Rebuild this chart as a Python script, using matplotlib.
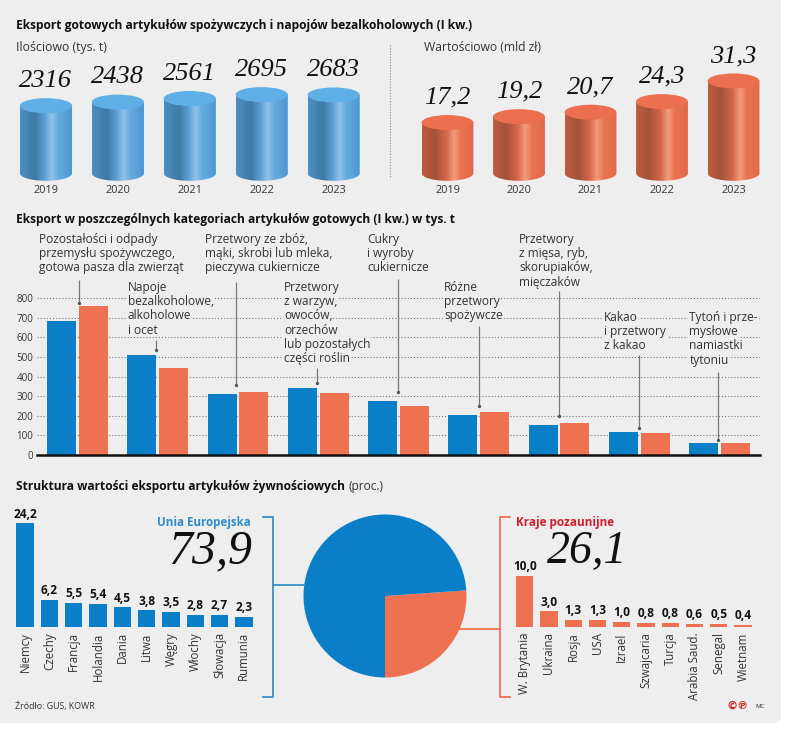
"""Eksport gotowych artykulow spozywczych - infographic."""
import numpy as np
import matplotlib

matplotlib.use('Agg')
import matplotlib.pyplot as plt
from matplotlib.colors import LinearSegmentedColormap
from matplotlib.patches import Ellipse, FancyBboxPatch, PathPatch
from matplotlib.path import Path

plt.rcParams['font.family'] = ['Open Sans', 'DejaVu Sans']

W, H = 788, 734
BG = '#eeeeee'
BLUE = '#0a7fc8'
ORANGE = '#ee7152'
TEXT = '#333333'
NUM_FONT = 'Liberation Serif'

# top cylinders
years = ['2019', '2020', '2021', '2022', '2023']
qty_values = [2316, 2438, 2561, 2695, 2683]
qty_labels = ['2316', '2438', '2561', '2695', '2683']
val_values = [17.2, 19.2, 20.7, 24.3, 31.3]
val_labels = ['17,2', '19,2', '20,7', '24,3', '31,3']

# categories, thousand tonnes
cat_labels = [
    'Pozostałości i odpady\nprzemysłu spożywczego,\ngotowa pasza dla zwierząt',
    'Napoje\nbezalkoholowe,\nalkoholowe\ni ocet',
    'Przetwory ze zbóż,\nmąki, skrobi lub mleka,\npieczywa cukiernicze',
    'Przetwory\nz warzyw,\nowoców,\norzechów\nlub pozostałych\nczęści roślin',
    'Cukry\ni wyroby\ncukiernicze',
    'Różne\nprzetwory\nspożywcze',
    'Przetwory\nz mięsa, ryb,\nskorupiaków,\nmięczaków',
    'Kakao\ni przetwory\nz kakao',
    'Tytoń i prze-\nmysłowe\nnamiastki\ntytoniu',
]
cat_blue = [685, 510, 310, 342, 277, 202, 155, 116, 60]
cat_orange = [758, 444, 323, 316, 250, 218, 163, 110, 63]
cat_ticks = [0, 100, 200, 300, 400, 500, 600, 700, 800]

# structure of value
eu_names = ['Niemcy', 'Czechy', 'Francja', 'Holandia', 'Dania', 'Litwa', 'Węgry', 'Włochy', 'Słowacja', 'Rumunia']
eu_values = [24.2, 6.2, 5.5, 5.4, 4.5, 3.8, 3.5, 2.8, 2.7, 2.3]
eu_labels = ['24,2', '6,2', '5,5', '5,4', '4,5', '3,8', '3,5', '2,8', '2,7', '2,3']
non_names = ['W. Brytania', 'Ukraina', 'Rosja', 'USA', 'Izrael', 'Szwajcaria', 'Turcja', 'Arabia Saud.', 'Senegal', 'Wietnam']
non_values = [10.0, 3.0, 1.3, 1.3, 1.0, 0.8, 0.8, 0.6, 0.5, 0.4]
non_labels = ['10,0', '3,0', '1,3', '1,3', '1,0', '0,8', '0,8', '0,6', '0,5', '0,4']
pie_values = [26.1, 73.9]

fig = plt.figure(figsize=(W / 100, H / 100), dpi=100, facecolor='white')


def px_axes(left, top, right, bottom, zorder=1):
    ax = fig.add_axes([left / W, 1 - bottom / H, (right - left) / W, (bottom - top) / H], zorder=zorder)
    ax.patch.set_visible(False)
    for s in ax.spines.values():
        s.set_visible(False)
    return ax


def cylinders(ax, values, labels, scale, cmap, top_color):
    """scale is pixels per unit, baseline sits 9.7 px above the axes bottom."""
    ry = 7.5 / scale
    half = 26 / 71.7
    angles = np.linspace(np.pi, 2 * np.pi, 40)
    grad = np.linspace(0, 1, 128).reshape(1, -1)
    for i, v in enumerate(values):
        xs = [i - half, i - half] + list(i + half * np.cos(angles)) + [i + half]
        ys = [v, 0] + list(ry * np.sin(angles)) + [v]
        im = ax.imshow(grad, extent=(i - half, i + half, -ry, v), cmap=cmap, aspect='auto', zorder=2)
        clip = PathPatch(Path(np.column_stack([xs, ys])), transform=ax.transData)
        im.set_clip_path(clip)
        ax.add_patch(Ellipse((i, v), 2 * half, 2 * ry, facecolor=top_color, edgecolor='none', zorder=3, clip_on=False))
        ax.annotate(labels[i], (i, v), xytext=(0, 25 / 1.389), textcoords='offset points', ha='center', va='center',
                    family=NUM_FONT, style='italic', fontsize=19, color='#111111', annotation_clip=False)
    ax.set_xlim(-0.5, 4.5)
    ax.set_ylim(-9.7 / scale, (173.3 - 20) / scale)
    ax.set_yticks([])
    ax.set_xticks(range(len(years)))
    ax.set_xticklabels(years, fontsize=7.8, color=TEXT)
    ax.tick_params(axis='x', length=0, pad=1.5)


def small_bars(ax, names, values, labels, color, scale):
    ax.bar(range(len(values)), values, width=0.716, color=color)
    for i, v in enumerate(values):
        ax.annotate(labels[i], (i, v), xytext=(0, 2), textcoords='offset points', ha='center', va='bottom',
                    fontsize=8.6, fontweight='bold', color='#111111', annotation_clip=False)
    ax.set_xlim(-0.5, 9.5)
    ax.set_ylim(0, 106 / scale)
    ax.set_yticks([])
    ax.set_xticks(range(len(names)))
    ax.set_xticklabels(names, rotation=90, fontsize=8.3, color=TEXT)
    ax.tick_params(axis='x', length=0, pad=4)


# background panel
bg = fig.add_axes([0, 0, 1, 1], zorder=0)
bg.set_xlim(0, W)
bg.set_ylim(H, 0)
bg.axis('off')
bg.add_patch(FancyBboxPatch((-20, -20), 801, 743, boxstyle='round,pad=0,rounding_size=7', facecolor=BG, edgecolor='none'))

# cylinders
cmap_blue = LinearSegmentedColormap.from_list('b', [(0, '#4b90c6'), (0.28, '#3f79a6'), (0.45, '#5b9dd2'), (0.6, '#90c2ea'), (0.72, '#68acdd'), (1, '#4a95d2')])
cmap_orange = LinearSegmentedColormap.from_list('o', [(0, '#c05a3e'), (0.25, '#a3533a'), (0.48, '#d9684a'), (0.62, '#f29c7e'), (0.75, '#ea7352'), (1, '#df694a')])
ax_qty = px_axes(10, 20, 369.6, 183)
cylinders(ax_qty, qty_values, qty_labels, 0.0292, cmap_blue, '#5dafe5')
ax_val = px_axes(411.75, 20, 769.25, 183)
cylinders(ax_val, val_values, val_labels, 2.95, cmap_orange, '#ec6f4f')

# grouped categories
ax_cat = px_axes(37, 285, 760, 455)
x = np.arange(len(cat_blue))
ax_cat.bar(x - 0.199, cat_blue, width=0.361, color=BLUE, zorder=3)
ax_cat.bar(x + 0.199, cat_orange, width=0.361, color=ORANGE, zorder=3)
ax_cat.set_xlim(-0.505, 8.505)
ax_cat.set_ylim(0, 170 / 0.196)
ax_cat.set_yticks(cat_ticks)
ax_cat.set_yticklabels([str(t) for t in cat_ticks], fontsize=7, color=TEXT)
ax_cat.set_xticks([])
ax_cat.tick_params(axis='y', length=0, pad=2.5)
ax_cat.grid(axis='y', linestyle=(0, (1, 1.8)), color='#777777', linewidth=0.8, zorder=1)
ax_cat.set_axisbelow(True)
ax_cat.spines['bottom'].set_visible(True)
ax_cat.spines['bottom'].set_linewidth(1.8)
ax_cat.spines['bottom'].set_color('#111111')
ax_cat.spines['bottom'].set_zorder(5)

# small bars and the pie
ax_eu = px_axes(13, 520.7, 256, 626.7)
small_bars(ax_eu, eu_names, eu_values, eu_labels, BLUE, 4.27)
ax_non = px_axes(512.6, 520.7, 755.1, 626.7)
small_bars(ax_non, non_names, non_values, non_labels, ORANGE, 5.07)

ax_pie = px_axes(303.5, 514.5, 466.5, 677.5)
ax_pie.pie(pie_values, colors=[ORANGE, BLUE], startangle=-90, counterclock=True, radius=1)
ax_pie.set_xlim(-1, 1)
ax_pie.set_ylim(-1, 1)

# overlay in pixel coordinates for text, leaders and brackets
ov = fig.add_axes([0, 0, 1, 1], zorder=5)
ov.set_xlim(0, W)
ov.set_ylim(H, 0)
ov.axis('off')
ov.patch.set_visible(False)

ov.text(16, 25, 'Eksport gotowych artykułów spożywczych i napojów bezalkoholowych (I kw.)', fontsize=8.62, fontweight='bold', color='#111111', va='center')
ov.text(16, 47.5, 'Ilościowo (tys. t)', fontsize=8.8, color=TEXT, va='center')
ov.text(424.3, 47.5, 'Wartościowo (mld zł)', fontsize=8.75, color=TEXT, va='center')
ov.plot([390, 390], [45, 177], color='#888888', linewidth=0.8, linestyle=(0, (1, 1.5)))
ov.text(16, 219.3, 'Eksport w poszczególnych kategoriach artykułów gotowych (I kw.) w tys. t', fontsize=8.62, fontweight='bold', color='#111111', va='center')
ov.text(16, 486.7, 'Struktura wartości eksportu artykułów żywnościowych', fontsize=8.62, fontweight='bold', color='#111111', va='center')
ov.text(349, 486.7, '(proc.)', fontsize=8.6, color=TEXT, va='center')

# category labels, one text per line so the grid only breaks behind the words
label_pos = [(39.5, 239.3), (128, 287.3), (205, 239.3), (284, 287.3), (367, 239.3), (444.3, 287.3), (519.3, 239.3), (604, 317.3), (689.3, 317.3)]
for lab, (lx, ly) in zip(cat_labels, label_pos):
    for k, line in enumerate(lab.split('\n')):
        ov.text(lx, ly + k * 14.25, line, fontsize=8.55, color=TEXT, va='center', ha='left',
                bbox=dict(facecolor=BG, edgecolor='none', pad=0.6))

leaders = [(79, 280, 302.7), (156, 340, 350), (236, 282, 385), (317, 368, 383), (398.5, 279, 392),
           (478.7, 326, 405.7), (559, 291, 415.7), (639.3, 355, 428), (718, 372, 440)]
for lx, y0, y1 in leaders:
    ov.plot([lx, lx], [y0, y1], color='#777777', linewidth=0.9, solid_capstyle='butt')
    ov.plot([lx], [y1], 'o', color='#555555', markersize=2.4, markeredgewidth=0)

# group headers
ov.text(251, 522.7, 'Unia Europejska', fontsize=8.4, fontweight='bold', color='#2e8ccb', ha='right', va='center')
ov.text(252, 551, '73,9', family=NUM_FONT, style='italic', fontsize=34.5, color='#111111', ha='right', va='center')
ov.text(515.7, 522.7, 'Kraje pozaunijne', fontsize=8.45, fontweight='bold', color='#cf1f2e', ha='left', va='center')
ov.text(546.7, 552, '26,1', family=NUM_FONT, style='italic', fontsize=33, color='#111111', ha='left', va='center')

# brackets
ov.plot([263, 272.7, 272.7, 263], [517, 517, 697, 697], color='#3a8fc8', linewidth=1.3)
ov.plot([272.7, 304], [585, 585], color='#3a8fc8', linewidth=1.3)
ov.plot([510, 500.3, 500.3, 510], [517, 517, 697, 697], color=ORANGE, linewidth=1.3)
ov.plot([460, 500.3], [629, 629], color=ORANGE, linewidth=1.3)

# footer
ov.text(15, 706, 'Źródło: GUS, KOWR', fontsize=6.4, color=TEXT, va='center')
ov.text(731.7, 705.7, '©', family=['DejaVu Sans'], fontsize=8, fontweight='bold', color='#cf2a2a', ha='center', va='center')
ov.text(741.7, 705.7, '℗', family=['DejaVu Sans'], fontsize=8, fontweight='bold', color='#cf2a2a', ha='center', va='center')
ov.text(755, 706, 'MC', fontsize=4.5, color=TEXT, va='center')

fig.savefig('out.png', dpi=100, facecolor='white')
plt.close(fig)
